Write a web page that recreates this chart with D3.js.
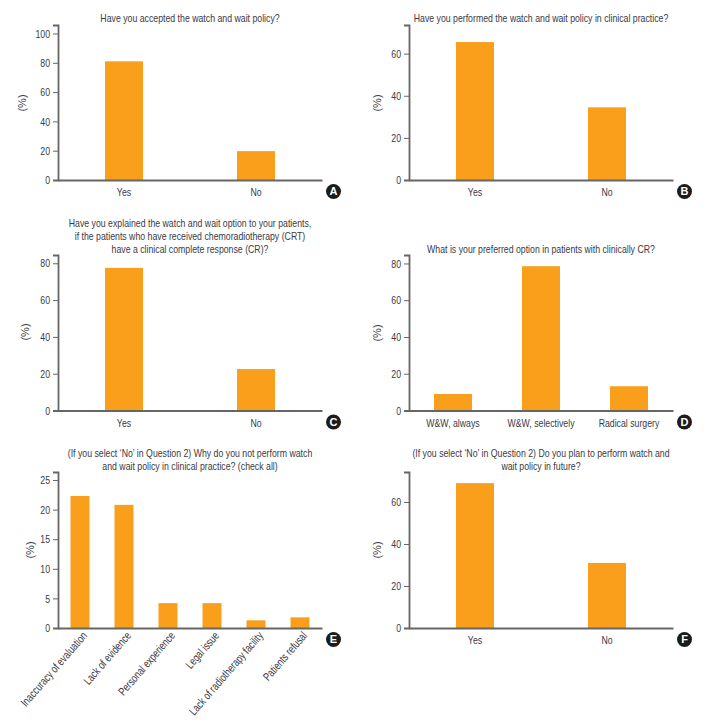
<!DOCTYPE html>
<html>
<head>
<meta charset="utf-8">
<script src="https://cdn.jsdelivr.net/npm/d3@7"></script>
<style>
  body { margin: 0; background: #fff; }
  text { font-family: "Liberation Sans", sans-serif; fill: #3a3a44; }
</style>
</head>
<body>
<div class="canvas"></div>
<script>
// values
const yesNo = ['Yes', 'No'];
const optionCats = ['W&W, always', 'W&W, selectively', 'Radical surgery'];
const reasonCats = ['Inaccuracy of evaluation', 'Lack of evidence', 'Personal experience',
  'Legal issue', 'Lack of radiotherapy facility', 'Patients refusal'];

const valuesA = [81, 19.7];
const valuesB = [65.5, 34.5];
const valuesC = [77.5, 22.5];
const valuesD = [9, 78.5, 13.2];
const valuesE = [22.3, 20.8, 4.2, 4.2, 1.3, 1.8];
const valuesF = [69, 31];

const ticksA = [0, 20, 40, 60, 80, 100];
const ticksB = [0, 20, 40, 60];
const ticksC = [0, 20, 40, 60, 80];
const ticksE = [0, 5, 10, 15, 20, 25];

const titleA = ['Have you accepted the watch and wait policy?'];
const titleB = ['Have you performed the watch and wait policy in clinical practice?'];
const titleC = ['Have you explained the watch and wait option to your patients,',
  'if the patients who have received chemoradiotherapy (CRT)',
  'have a clinical complete response (CR)?'];
const titleD = ['What is your preferred option in patients with clinically CR?'];
const titleE = ['(If you select \u2018No\u2019 in Question 2) Why do you not perform watch',
  'and wait policy in clinical practice? (check all)'];
const titleF = ['(If you select \u2018No\u2019 in Question 2) Do you plan to perform watch and',
  'wait policy in future?'];

const orange = '#f99f1c';
const axisColor = '#666';
const graphWidth = 264;

const svg = d3.select('.canvas').append('svg')
  .attr('width', 716)
  .attr('height', 723)
  .style('display', 'block');

// the original uses a narrow face that is not installed, so squeeze the text instead
function condense(selection, factor) {
  selection.each(function() {
    const len = this.getComputedTextLength();
    d3.select(this)
      .attr('textLength', len * factor)
      .attr('lengthAdjust', 'spacingAndGlyphs');
  });
}

// one panel: left = y axis x, base = x axis y, top = y axis top
function drawPanel(p) {
  const graph = svg.append('g');

  const x = d3.scaleBand()
    .domain(p.cats)
    .range([p.left, p.left + graphWidth]);

  const y = d3.scaleLinear()
    .domain([0, p.maxY])
    .range([p.base, p.top]);

  const barWidth = p.barWidth || 38;

  graph.selectAll('rect.bar')
    .data(p.values)
    .enter().append('rect')
    .attr('class', 'bar')
    .attr('x', (d, i) => x(p.cats[i]) + x.bandwidth() / 2 - barWidth / 2)
    .attr('y', d => y(d))
    .attr('width', barWidth)
    .attr('height', d => p.base - y(d))
    .attr('fill', orange);

  const yAxis = d3.axisLeft(y)
    .tickValues(p.ticks)
    .tickSize(5)
    .tickPadding(3)
    .tickFormat(d3.format('d'));

  const xAxis = d3.axisBottom(x)
    .tickSize(0)
    .tickPadding(8);

  const yAxisGroup = graph.append('g').call(yAxis);
  yAxisGroup.attr('transform', `translate(${p.left}, 0)`);
  const xAxisGroup = graph.append('g').call(xAxis);
  xAxisGroup.attr('transform', `translate(0, ${p.base})`);

  graph.selectAll('.domain')
    .attr('stroke', axisColor)
    .attr('stroke-width', 1.8);
  graph.selectAll('.tick line')
    .attr('stroke', axisColor)
    .attr('stroke-width', 1);
  graph.selectAll('.tick text')
    .style('font-size', '11.5px')
    .attr('fill', '#3a3a44')
    .call(condense, 0.76);

  if (p.slanted) {
    xAxisGroup.selectAll('text')
      .attr('transform', 'rotate(-49)')
      .attr('text-anchor', 'end')
      .attr('x', -1)
      .attr('y', 3)
      .attr('dy', '0.71em');
  }

  // title lines, last line sits just above the axis
  p.title.forEach((line, i) => {
    graph.append('text')
      .attr('x', p.left + graphWidth / 2)
      .attr('y', p.titleY - (p.title.length - 1 - i) * 13)
      .attr('text-anchor', 'middle')
      .style('font-size', '11.5px')
      .text(line)
      .call(condense, 0.76);
  });

  graph.append('text')
    .attr('transform', `translate(${p.labelX}, ${p.labelY}) rotate(-90)`)
    .attr('text-anchor', 'middle')
    .attr('dy', '0.35em')
    .style('font-size', '11px')
    .text('(%)');

  // panel letter
  const bx = p.left + graphWidth + 11.5;
  const by = p.base + 11.5;
  graph.append('circle')
    .attr('cx', bx)
    .attr('cy', by)
    .attr('r', 7.5)
    .attr('fill', '#1c1c1c');
  graph.append('text')
    .attr('x', bx)
    .attr('y', by)
    .attr('dy', '0.36em')
    .attr('text-anchor', 'middle')
    .style('font-weight', 'bold')
    .style('font-size', '11px')
    .style('fill', '#fff')
    .text(p.letter);
}

drawPanel({ letter: 'A', cats: yesNo, values: valuesA, ticks: ticksA, title: titleA,
  left: 58, base: 180, top: 25, maxY: 105.8, titleY: 22, labelX: 22, labelY: 103 });
drawPanel({ letter: 'B', cats: yesNo, values: valuesB, ticks: ticksB, title: titleB,
  left: 409, base: 180, top: 25, maxY: 73.6, titleY: 22, labelX: 377, labelY: 103 });
drawPanel({ letter: 'C', cats: yesNo, values: valuesC, ticks: ticksC, title: titleC,
  left: 58, base: 410.5, top: 255, maxY: 84.5, titleY: 252.5, labelX: 25, labelY: 332 });
drawPanel({ letter: 'D', cats: optionCats, values: valuesD, ticks: ticksC, title: titleD,
  left: 409, base: 410.5, top: 255, maxY: 84.6, titleY: 253, labelX: 377, labelY: 333 });
drawPanel({ letter: 'E', cats: reasonCats, values: valuesE, ticks: ticksE, title: titleE,
  left: 58, base: 628, top: 472, maxY: 26.35, titleY: 470, labelX: 30, labelY: 550,
  barWidth: 19, slanted: true });
drawPanel({ letter: 'F', cats: yesNo, values: valuesF, ticks: ticksB, title: titleF,
  left: 409, base: 628, top: 472, maxY: 74.3, titleY: 470, labelX: 377, labelY: 550 });
</script>
</body>
</html>
